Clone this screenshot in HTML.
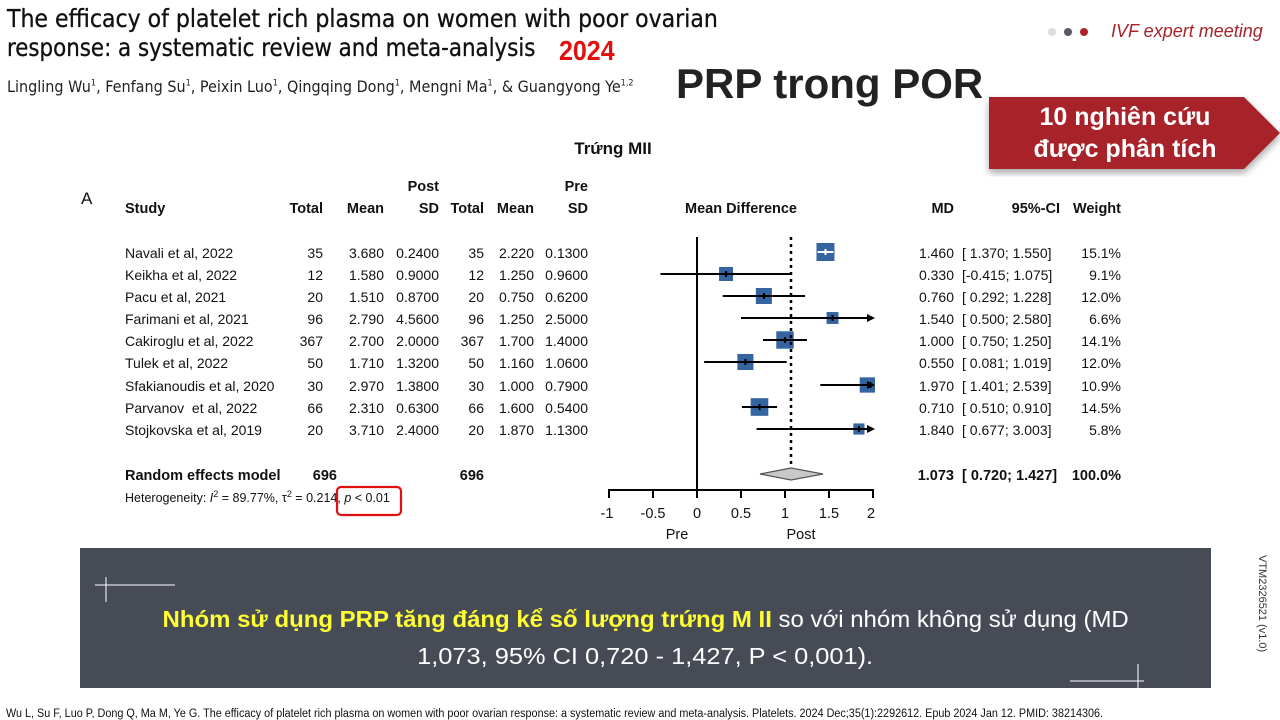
<!DOCTYPE html>
<html><head><meta charset="utf-8"><style>
body{margin:0;width:1280px;height:720px;background:#fff;position:relative;overflow:hidden;font-family:"Liberation Sans",Arial,sans-serif}
.a{position:absolute;white-space:nowrap}
</style></head><body>
<div class="a" style="left:7px;top:4px;font-size:24.5px;line-height:29px;color:#111;font-family:'DejaVu Sans Condensed','Liberation Sans',sans-serif;-webkit-text-stroke:0.3px #111">The efficacy of platelet rich plasma on women with poor ovarian<br><span style="display:inline-block;transform:scaleX(0.97);transform-origin:0 0">response: a systematic review and meta-analysis</span></div>
<div class="a" style="left:559px;top:37px;font-size:25px;font-weight:bold;color:#e01010;font-family:'Liberation Sans Narrow','Liberation Sans',sans-serif;transform:scaleY(1.1)">2024</div>
<div class="a" style="left:7px;top:77px;font-size:16px;color:#222;font-family:'DejaVu Sans Condensed','Liberation Sans',sans-serif">Lingling Wu<sup style="font-size:9px">1</sup>, Fenfang Su<sup style="font-size:9px">1</sup>, Peixin Luo<sup style="font-size:9px">1</sup>, Qingqing Dong<sup style="font-size:9px">1</sup>, Mengni Ma<sup style="font-size:9px">1</sup>, &amp; Guangyong Ye<sup style="font-size:9px">1,2</sup></div>
<div class="a" style="left:676px;top:60px;font-size:42px;font-weight:bold;color:#222">PRP trong POR</div>
<div class="a" style="left:1048px;top:28px;width:8px;height:8px;border-radius:50%;background:#ddd"></div>
<div class="a" style="left:1064px;top:28px;width:8px;height:8px;border-radius:50%;background:#555a63"></div>
<div class="a" style="left:1080px;top:28px;width:8px;height:8px;border-radius:50%;background:#a8242a"></div>
<div class="a" style="left:1111px;top:21px;font-size:18px;font-style:italic;color:#a8242a">IVF expert meeting</div>
<svg class="a" style="left:0;top:0" width="1280" height="720">
<defs><filter id="sh"><feDropShadow dx="0" dy="4" stdDeviation="4" flood-opacity="0.35"/></filter></defs>
<polygon points="989,97 1244,97 1280,133 1244,169 989,169" fill="#a8242a" filter="url(#sh)"/>
</svg>
<div class="a" style="left:1000px;top:101px;width:250px;text-align:center;font-size:25px;line-height:32px;font-weight:bold;color:#fff">10 nghiên cứu<br>được phân tích</div>
<svg class="a" style="left:0;top:0" width="1280" height="720" font-family="Liberation Sans, Arial, sans-serif" font-size="14" fill="#111">
<text x="613" y="154" font-size="17" font-weight="bold" text-anchor="middle">Trứng MII</text>
<text x="81" y="204" font-size="17">A</text>
<g font-weight="bold" font-size="14.5">
<text x="125" y="213">Study</text>
<text x="323" y="213" text-anchor="end">Total</text>
<text x="384" y="213" text-anchor="end">Mean</text>
<text x="439" y="191" text-anchor="end">Post</text>
<text x="439" y="213" text-anchor="end">SD</text>
<text x="484" y="213" text-anchor="end">Total</text>
<text x="534" y="213" text-anchor="end">Mean</text>
<text x="588" y="191" text-anchor="end">Pre</text>
<text x="588" y="213" text-anchor="end">SD</text>
<text x="741" y="213" text-anchor="middle">Mean Difference</text>
<text x="954" y="213" text-anchor="end">MD</text>
<text x="1060" y="213" text-anchor="end">95%-CI</text>
<text x="1121" y="213" text-anchor="end">Weight</text>
</g>
<g id="rows"></g>
<g font-weight="bold" font-size="14.5">
<text x="125" y="480">Random effects model</text>
<text x="337" y="480" text-anchor="end">696</text>
<text x="484" y="480" text-anchor="end">696</text>
<text x="954" y="480" text-anchor="end">1.073</text>
<text x="962" y="480">[ 0.720; 1.427]</text>
<text x="1121" y="480" text-anchor="end">100.0%</text>
</g>
<text x="125" y="502" font-size="12.5">Heterogeneity: <tspan font-style="italic">I</tspan><tspan dy="-5" font-size="9">2</tspan><tspan dy="5"> = 89.77%, τ</tspan><tspan dy="-5" font-size="9">2</tspan><tspan dy="5"> = 0.214, </tspan><tspan font-style="italic">p</tspan> &lt; 0.01</text>
<rect x="337" y="487" width="64" height="28" rx="4" fill="none" stroke="#e01010" stroke-width="2.2"/>
<line x1="697" y1="237" x2="697" y2="490" stroke="#000" stroke-width="2"/>
<line x1="791" y1="237" x2="791" y2="480" stroke="#000" stroke-width="2.5" stroke-dasharray="3,4"/>
<line x1="609" y1="490" x2="873" y2="490" stroke="#000" stroke-width="2"/>
<g stroke="#000" stroke-width="2"><line x1="609" y1="489" x2="609" y2="498"/><line x1="653" y1="489" x2="653" y2="498"/><line x1="697" y1="489" x2="697" y2="498"/><line x1="741" y1="489" x2="741" y2="498"/><line x1="785" y1="489" x2="785" y2="498"/><line x1="829" y1="489" x2="829" y2="498"/><line x1="873" y1="489" x2="873" y2="498"/></g>
<g font-size="14.5" text-anchor="middle"><text x="607" y="518">-1</text><text x="653" y="518">-0.5</text><text x="697" y="518">0</text><text x="741" y="518">0.5</text><text x="785" y="518">1</text><text x="829" y="518">1.5</text><text x="871" y="518">2</text>
<text x="677" y="539">Pre</text><text x="801" y="539">Post</text></g>
<polygon points="760,474 791,468 823,474 791,480" fill="#c8c8c8" stroke="#555" stroke-width="1.2"/>
</svg>
<div class="a" style="left:80px;top:548px;width:1131px;height:140px;background:#464b55"></div>
<svg class="a" style="left:80px;top:548px" width="1131" height="140"><g stroke="#fff" stroke-width="1"><line x1="15" y1="37" x2="95" y2="37"/><line x1="26" y1="29" x2="26" y2="54"/><line x1="990" y1="133" x2="1064" y2="133"/><line x1="1058" y1="116" x2="1058" y2="140"/></g></svg>
<div class="a" style="left:80px;top:601px;width:1131px;text-align:center;font-size:23.5px;line-height:37px;color:#fff;white-space:normal"><span style="display:inline-block;transform:scaleX(1.02)"><b style="color:#ffff33">Nhóm sử dụng PRP tăng đáng kể số lượng trứng M II</b> so với nhóm không sử dụng (MD</span><br><span style="display:inline-block;transform:scaleX(1.08)">1,073, 95% CI 0,720 - 1,427, P &lt; 0,001).</span></div>
<div class="a" style="left:1256px;top:555px;font-size:11px;color:#333;writing-mode:vertical-rl">VTM2326521 (v1.0)</div>
<div class="a" style="left:6px;top:708px;font-size:11.5px;color:#111;transform:scaleX(0.94);transform-origin:0 0">Wu L, Su F, Luo P, Dong Q, Ma M, Ye G. The efficacy of platelet rich plasma on women with poor ovarian response: a systematic review and meta-analysis. Platelets. 2024 Dec;35(1):2292612. Epub 2024 Jan 12. PMID:  38214306.</div>
<script>
const d=[["Navali et al, 2022",35,"3.680","0.2400","2.220","0.1300",1.46,1.37,1.55,"[ 1.370; 1.550]","15.1%"],
["Keikha et al, 2022",12,"1.580","0.9000","1.250","0.9600",0.33,-0.415,1.075,"[-0.415; 1.075]","9.1%"],
["Pacu et al, 2021",20,"1.510","0.8700","0.750","0.6200",0.76,0.292,1.228,"[ 0.292; 1.228]","12.0%"],
["Farimani et al, 2021",96,"2.790","4.5600","1.250","2.5000",1.54,0.5,2.58,"[ 0.500; 2.580]","6.6%"],
["Cakiroglu et al, 2022",367,"2.700","2.0000","1.700","1.4000",1.0,0.75,1.25,"[ 0.750; 1.250]","14.1%"],
["Tulek et al, 2022",50,"1.710","1.3200","1.160","1.0600",0.55,0.081,1.019,"[ 0.081; 1.019]","12.0%"],
["Sfakianoudis et al, 2020",30,"2.970","1.3800","1.000","0.7900",1.97,1.401,2.539,"[ 1.401; 2.539]","10.9%"],
["Parvanov  et al, 2022",66,"2.310","0.6300","1.600","0.5400",0.71,0.51,0.91,"[ 0.510; 0.910]","14.5%"],
["Stojkovska et al, 2019",20,"3.710","2.4000","1.870","1.1300",1.84,0.677,3.003,"[ 0.677; 3.003]","5.8%"]];
const ys=[252,274,296,318,340,362,385,407,429];const X=v=>697+v*88;let s="";
d.forEach((r,i)=>{const y=ys[i];const t=y+6;
s+=`<text x="125" y="${t}" xml:space="preserve">${r[0]}</text><text x="323" y="${t}" text-anchor="end">${r[1]}</text><text x="384" y="${t}" text-anchor="end">${r[2]}</text><text x="439" y="${t}" text-anchor="end">${r[3]}</text><text x="484" y="${t}" text-anchor="end">${r[1]}</text><text x="534" y="${t}" text-anchor="end">${r[4]}</text><text x="588" y="${t}" text-anchor="end">${r[5]}</text><text x="954" y="${t}" text-anchor="end">${r[6].toFixed(3)}</text><text x="962" y="${t}" xml:space="preserve">${r[9]}</text><text x="1121" y="${t}" text-anchor="end">${r[10]}</text>`;
const w=parseFloat(r[10]);const sz=18*Math.sqrt(w/15.1);const cx=Math.min(X(r[6]),873-sz/2+2);
s+=`<rect x="${cx-sz/2}" y="${y-sz/2}" width="${sz}" height="${sz}" fill="#3465a0"/>`;
const hi=Math.min(X(r[8]),873);const col=i==0?"#fff":"#000";
s+=`<line x1="${X(r[7])}" y1="${y}" x2="${hi}" y2="${y}" stroke="${col}" stroke-width="2"/><line x1="${X(r[6])}" y1="${y-3}" x2="${X(r[6])}" y2="${y+3}" stroke="${col}" stroke-width="2"/>`;
if(r[8]>2)s+=`<polygon points="867,${y-4} 875,${y} 867,${y+4}" fill="#000"/>`;});
document.getElementById("rows").innerHTML=s;
</script>
</body></html>
